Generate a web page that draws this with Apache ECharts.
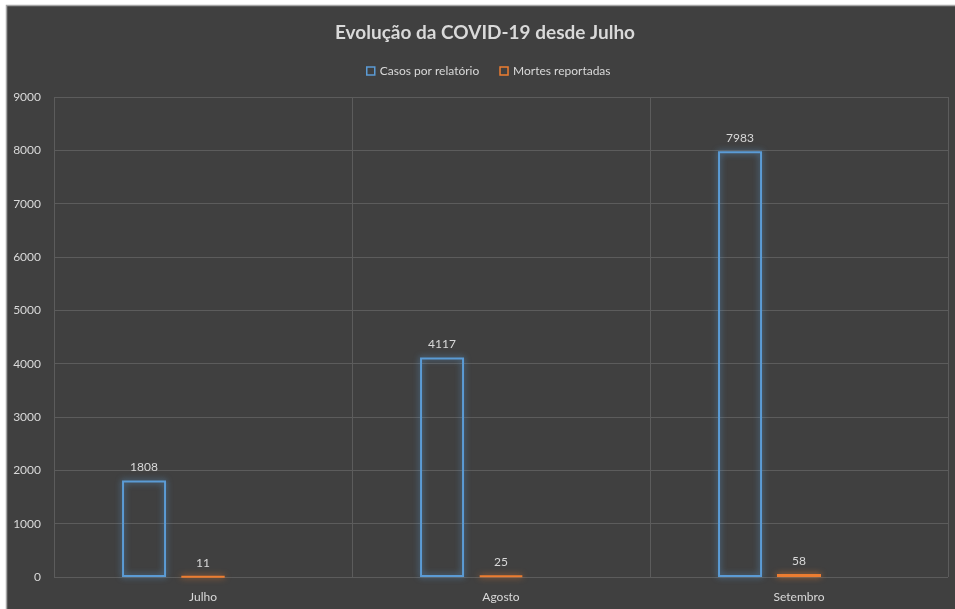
<!DOCTYPE html>
<html>
<head>
<meta charset="utf-8">
<script src="https://cdn.jsdelivr.net/npm/echarts@6/dist/echarts.min.js"></script>
<style>
html,body{margin:0;padding:0;background:#fff;}
#c{width:955px;height:609px;}
</style>
</head>
<body>
<div id="c"></div>
<script>
const titleText = 'Evolução da COVID-19 desde Julho';
const categories = ['Julho', 'Agosto', 'Setembro'];
const casos = [1808, 4117, 7983];
const mortes = [11, 25, 58];
const seriesNames = ['Casos por relatório', 'Mortes reportadas'];
const yTicks = { min: 0, max: 9000, interval: 1000 };

const FONT = 'Lato';
const chart = echarts.init(document.getElementById('c'), null, { renderer: 'canvas' });

function barSeries(name, data, color, glow) {
  return {
    name: name,
    type: 'bar',
    data: data,
    barWidth: 44,
    barGap: '34%',
    itemStyle: {
      color: 'rgba(0,0,0,0)',
      borderColor: color,
      borderWidth: 2,
      shadowColor: glow,
      shadowBlur: 6
    },
    label: {
      show: true,
      position: 'top',
      distance: 7,
      color: '#d9d9d9',
      fontFamily: FONT,
      fontSize: 12
    },
    emphasis: { disabled: true }
  };
}

chart.setOption({
  backgroundColor: '#ffffff',
  animation: false,
  graphic: [{
    type: 'rect',
    z: -10,
    silent: true,
    shape: { x: 6.5, y: 5.5, width: 970, height: 620 },
    style: { fill: '#404040', stroke: '#a6a6a6', lineWidth: 1.5 }
  }],
  title: {
    text: titleText,
    left: 480,
    top: 18,
    textAlign: 'center',
    textStyle: { color: '#d9d9d9', fontFamily: FONT, fontWeight: 'bold', fontSize: 19 }
  },
  legend: {
    data: seriesNames,
    left: 361,
    top: 60,
    itemWidth: 8,
    itemHeight: 8,
    itemGap: 20,
    icon: 'rect',
    textStyle: { color: '#d9d9d9', fontFamily: FONT, fontSize: 12 },
    itemStyle: { color: 'rgba(0,0,0,0)', borderWidth: 1.5 }
  },
  grid: { left: 54, right: 7, top: 97, bottom: 32, containLabel: false },
  xAxis: {
    type: 'category',
    data: categories,
    axisLine: { show: false },
    axisTick: { show: false },
    axisLabel: { color: '#d9d9d9', fontFamily: FONT, fontSize: 12, margin: 14 },
    splitLine: { show: true, interval: 0, lineStyle: { color: '#5c5c5c', width: 1 } }
  },
  yAxis: {
    type: 'value',
    min: yTicks.min,
    max: yTicks.max,
    interval: yTicks.interval,
    axisLine: { show: false },
    axisTick: { show: false },
    axisLabel: { color: '#d9d9d9', fontFamily: FONT, fontSize: 12, margin: 13, formatter: function (v) { return String(v); } },
    splitLine: { lineStyle: { color: '#5c5c5c', width: 1 } }
  },
  series: [
    barSeries(seriesNames[0], casos, '#5b9bd5', 'rgba(91,155,213,0.8)'),
    barSeries(seriesNames[1], mortes, '#ed7d31', 'rgba(237,125,49,0.8)'),
    { name: '', type: 'bar', data: [], barWidth: 44, barGap: '34%' }
  ]
});
</script>
</body>
</html>
